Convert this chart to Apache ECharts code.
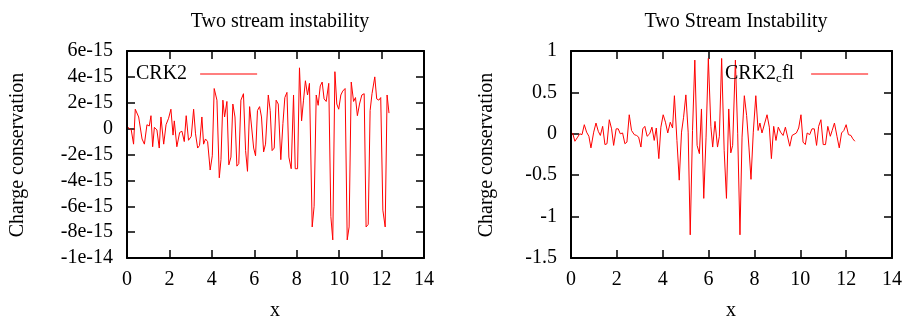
<!DOCTYPE html>
<html>
<head>
<meta charset="utf-8">
<script src="https://cdn.jsdelivr.net/npm/echarts@6/dist/echarts.min.js"></script>
<style>
html,body{margin:0;padding:0;background:#fff;}
#c{width:908px;height:323px;}
</style>
</head>
<body>
<div id="c"></div>
<script>
// ---- Data ----
const leftTitle = 'Two stream instability';
const rightTitle = 'Two Stream Instability';
const yAxisName = 'Charge conservation';
const xAxisName = 'x';

const xTicks = [0, 2, 4, 6, 8, 10, 12, 14];
// left chart values are in units of 1e-15
const leftYTickValues = [-10, -8, -6, -4, -2, 0, 2, 4, 6];
const leftYTickLabels = ['-1e-14', '-8e-15', '-6e-15', '-4e-15', '-2e-15', '0', '2e-15', '4e-15', '6e-15'];
const rightYTickValues = [-1.5, -1, -0.5, 0, 0.5, 1];
const rightYTickLabels = ['-1.5', '-1', '-0.5', '0', '0.5', '1'];

const crk2X = [0.05,0.20,0.31,0.39,0.55,0.71,0.82,0.94,1.05,1.13,1.21,1.29,1.41,1.52,1.60,1.73,1.84,1.96,2.07,2.17,2.23,2.35,2.48,2.59,2.70,2.79,2.90,3.03,3.14,3.23,3.33,3.42,3.53,3.61,3.70,3.80,3.92,4.02,4.11,4.24,4.35,4.43,4.52,4.60,4.71,4.80,4.90,4.99,5.09,5.18,5.27,5.37,5.49,5.59,5.68,5.78,5.87,5.97,6.06,6.15,6.25,6.34,6.44,6.53,6.66,6.75,6.84,6.94,7.03,7.13,7.25,7.35,7.44,7.54,7.63,7.74,7.85,7.93,8.04,8.13,8.23,8.32,8.41,8.51,8.60,8.73,8.82,8.92,9.01,9.11,9.20,9.29,9.39,9.51,9.61,9.70,9.80,9.89,9.98,10.08,10.17,10.28,10.38,10.47,10.57,10.68,10.77,10.86,10.96,11.07,11.18,11.27,11.37,11.46,11.55,11.68,11.77,11.87,11.96,12.06,12.17,12.26,12.35];
// units of 1e-15
const crk2Y = [0.1,-0.1,-1.2,1.5,0.9,-0.8,-1.2,0.3,0.2,1.0,-1.4,0.1,-0.1,-1.5,0.9,-1.2,0.3,0.8,1.5,-0.5,0.6,-1.4,-0.3,-0.2,-1.0,1.0,-0.9,-0.6,1.5,-0.4,-1.5,-1.3,0.9,-1.2,-0.8,-1.0,-3.2,-2.1,3.1,2.2,-3.8,-2.4,2.2,0.9,2.1,-2.8,-2.2,1.9,0.9,-2.9,-2.7,2.2,2.7,-1.7,-3.3,1.7,1.7,-1.5,-2.1,1.4,1.7,0.9,-1.8,-1.2,2.6,1.4,-1.7,-1.5,2.2,1.9,-2.4,0.4,2.4,2.8,-2.2,-3.1,2.6,-3.1,-3.1,4.7,0.6,2.2,3.7,2.6,3.5,-7.6,-6.0,2.6,1.8,3.3,3.6,2.3,2.1,3.5,-6.8,-8.6,4.4,1.9,1.5,2.6,2.9,3.1,-8.6,-7.6,3.6,2.1,2.4,1.0,1.9,2.6,2.7,-7.6,-7.4,1.4,2.7,4.0,2.3,2.2,2.4,-6.3,-7.6,2.6,1.2];

const cflX = [0.07,0.17,0.29,0.38,0.48,0.58,0.68,0.78,0.87,0.99,1.09,1.19,1.28,1.38,1.48,1.57,1.67,1.77,1.86,1.97,2.06,2.15,2.25,2.35,2.44,2.54,2.64,2.76,2.86,2.95,3.05,3.13,3.22,3.32,3.43,3.53,3.63,3.72,3.83,3.92,4.02,4.12,4.22,4.33,4.43,4.51,4.62,4.72,4.82,4.91,5.01,5.11,5.20,5.30,5.40,5.50,5.60,5.69,5.79,5.89,5.99,6.10,6.18,6.28,6.39,6.47,6.57,6.68,6.78,6.88,6.97,7.05,7.17,7.27,7.37,7.46,7.56,7.66,7.76,7.85,7.95,8.06,8.16,8.24,8.33,8.45,8.55,8.65,8.74,8.84,8.94,9.04,9.14,9.25,9.35,9.43,9.54,9.64,9.72,9.83,9.93,10.03,10.12,10.22,10.30,10.41,10.51,10.61,10.71,10.80,10.90,11.00,11.10,11.20,11.31,11.39,11.49,11.60,11.70,11.80,11.90,12.00,12.10,12.21,12.29,12.38];
const cflY = [0.01,-0.09,-0.04,0.0,-0.01,0.11,0.02,-0.03,-0.17,0.02,0.13,0.03,-0.02,0.09,-0.13,-0.12,0.17,0.06,-0.14,0.06,0.06,0.0,0.01,-0.12,-0.10,0.23,0.04,-0.01,-0.02,-0.04,-0.16,0.06,0.09,-0.03,0.0,0.08,-0.08,0.07,-0.30,0.08,0.23,0.14,0.01,0.14,0.07,0.46,-0.08,-0.56,0.02,0.20,0.47,0.02,-1.22,0.04,0.89,-0.14,-0.24,0.30,-0.78,-0.04,0.91,0.09,-0.16,0.15,-0.16,-0.03,0.91,-0.20,-0.78,0.30,-0.23,-0.14,0.89,0.0,-1.22,-0.04,0.46,0.22,-0.16,-0.55,0.02,0.46,0.04,0.13,0.01,0.13,0.23,0.08,-0.30,0.09,-0.08,0.08,0.02,-0.02,0.08,0.06,-0.15,-0.02,-0.01,0.01,0.07,0.23,-0.10,-0.13,0.01,-0.01,0.06,0.06,-0.14,0.09,0.17,-0.13,-0.13,0.09,-0.03,0.04,0.13,-0.03,-0.17,0.01,0.04,0.11,-0.01,-0.02,-0.06,-0.09];

// ---- Chart ----
const FONT = 'Liberation Serif';
const lineColor = '#ff0000';
const chart = echarts.init(document.getElementById('c'), null, {renderer: 'canvas'});

function zip(a, b) { return a.map((v, i) => [v, b[i]]); }
function lookup(vals, labels) {
  return function (v) {
    for (let i = 0; i < vals.length; i++) if (Math.abs(vals[i] - v) < 1e-9) return labels[i];
    return '';
  };
}

const grids = [
  {left: 127, top: 51, width: 297, height: 207},
  {left: 571, top: 51, width: 321, height: 207}
];

const axisLineStyle = {show: true, lineStyle: {color: '#000', width: 2}};
const tickStyle = {show: true, inside: true, length: 8, lineStyle: {color: '#000', width: 1.5}};

function xAxes(gi) {
  return [
    {type: 'value', gridIndex: gi, position: 'bottom', min: 0, max: 14, interval: 2,
     axisLine: Object.assign({onZero: false}, axisLineStyle), axisTick: tickStyle, splitLine: {show: false},
     axisLabel: {show: true, margin: 12, color: '#000', fontFamily: FONT, fontSize: 20,
       formatter: v => (xTicks.indexOf(v) >= 0 ? String(v) : '')}},
    {type: 'value', gridIndex: gi, position: 'top', min: 0, max: 14, interval: 2,
     axisLine: Object.assign({onZero: false}, axisLineStyle), axisTick: tickStyle, splitLine: {show: false},
     axisLabel: {show: false}}
  ];
}
function yAxes(gi, min, max, interval, vals, labels) {
  return [
    {type: 'value', gridIndex: gi, position: 'left', min: min, max: max, interval: interval,
     axisLine: Object.assign({onZero: false}, axisLineStyle), axisTick: tickStyle, splitLine: {show: false},
     axisLabel: {show: true, margin: 14, color: '#000', fontFamily: FONT, fontSize: 20,
       formatter: lookup(vals, labels)}},
    {type: 'value', gridIndex: gi, position: 'right', min: min, max: max, interval: interval,
     axisLine: Object.assign({onZero: false}, axisLineStyle), axisTick: tickStyle, splitLine: {show: false},
     axisLabel: {show: false}}
  ];
}

const option = {
  backgroundColor: '#fff',
  animation: false,
  title: [
    {text: leftTitle, left: 275, top: 7, textAlign: 'center',
     textStyle: {fontFamily: FONT, fontSize: 20, fontWeight: 'normal', color: '#000'}},
    {text: rightTitle, left: 731, top: 7, textAlign: 'center',
     textStyle: {fontFamily: FONT, fontSize: 20, fontWeight: 'normal', color: '#000'}}
  ],
  legend: [
    {data: ['CRK2'], left: 131, top: 59, align: 'right', icon: 'rect', itemWidth: 57, itemHeight: 1.2,
     textStyle: {fontFamily: FONT, fontSize: 20, color: '#000', padding: [0, 8, 0, 0]}},
    {data: ['CRK2_cfl'], left: 720, top: 59, align: 'right', icon: 'rect', itemWidth: 57, itemHeight: 1.2,
     formatter: () => 'CRK2{sub|c}fl',
     textStyle: {fontFamily: FONT, fontSize: 20, color: '#000', padding: [0, 12, 0, 0],
       rich: {sub: {fontFamily: FONT, fontSize: 13, color: '#000', verticalAlign: 'bottom', padding: [10, 0, 0, 0]}}}}
  ],
  grid: grids,
  xAxis: xAxes(0).concat(xAxes(1)),
  yAxis: yAxes(0, -10, 6, 2, leftYTickValues, leftYTickLabels)
    .concat(yAxes(1, -1.5, 1, 0.5, rightYTickValues, rightYTickLabels)),
  series: [
    {name: 'CRK2', type: 'line', xAxisIndex: 0, yAxisIndex: 0, data: zip(crk2X, crk2Y),
     symbol: 'none', lineStyle: {color: lineColor, width: 1}, itemStyle: {color: lineColor}},
    {name: 'CRK2_cfl', type: 'line', xAxisIndex: 2, yAxisIndex: 2, data: zip(cflX, cflY),
     symbol: 'none', lineStyle: {color: lineColor, width: 1}, itemStyle: {color: lineColor}}
  ],
  graphic: [
    {type: 'text', x: 18, y: 155, rotation: Math.PI / 2,
     style: {text: yAxisName, font: '20px "Liberation Serif"', fill: '#000', align: 'center', verticalAlign: 'middle'}},
    {type: 'text', x: 487, y: 155, rotation: Math.PI / 2,
     style: {text: yAxisName, font: '20px "Liberation Serif"', fill: '#000', align: 'center', verticalAlign: 'middle'}},
    {type: 'text', x: 275, y: 311,
     style: {text: xAxisName, font: '20px "Liberation Serif"', fill: '#000', align: 'center', verticalAlign: 'middle'}},
    {type: 'text', x: 731, y: 311,
     style: {text: xAxisName, font: '20px "Liberation Serif"', fill: '#000', align: 'center', verticalAlign: 'middle'}}
  ]
};
chart.setOption(option);
</script>
</body>
</html>
